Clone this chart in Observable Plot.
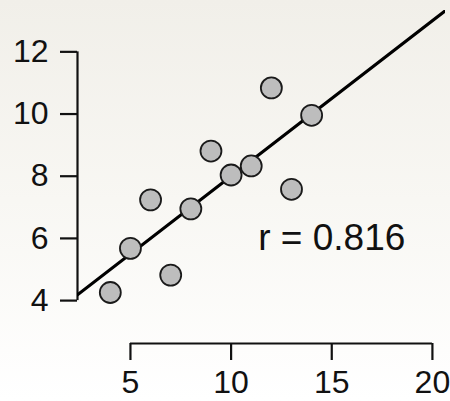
<!DOCTYPE html>
<html>
<head>
<meta charset="utf-8">
<script src="https://cdn.jsdelivr.net/npm/d3@7"></script>
<script src="https://cdn.jsdelivr.net/npm/@observablehq/plot@0.6"></script>
<style>
  html, body { margin: 0; padding: 0; }
  body {
    width: 450px; height: 401px; overflow: hidden;
    background: linear-gradient(to bottom, #f1efe9 0%, #f8f7f3 50%, #ffffff 100%);
    font-family: "Liberation Sans", Arial, Helvetica, sans-serif;
  }
  svg { display: block; }
</style>
</head>
<body>
<div id="chart"></div>
<script>
// Anscombe's quartet, set I
const xs = [10, 8, 13, 9, 11, 14, 6, 4, 12, 7, 5];
const ys = [8.04, 6.95, 7.58, 8.81, 8.33, 9.96, 7.24, 4.26, 10.84, 4.82, 5.68];
const xTicks = [5, 10, 15, 20];
const yTicks = [4, 6, 8, 10, 12];

const points = xs.map((x, i) => ({x, y: ys[i]}));

// least-squares fit and correlation
const mx = d3.mean(xs), my = d3.mean(ys);
const sxy = d3.sum(xs, (x, i) => (x - mx) * (ys[i] - my));
const sxx = d3.sum(xs, x => (x - mx) ** 2);
const syy = d3.sum(ys, y => (y - my) ** 2);
const slope = sxy / sxx;
const intercept = my - slope * mx;
const r = sxy / Math.sqrt(sxx * syy);

const xDomain = [2.37, 20.65];
const yDomain = [2.62, 13.33];
const fitLine = xDomain.map(x => ({x, y: intercept + slope * x}));

const chart = Plot.plot({
  width: 450,
  height: 401,
  marginLeft: 77,
  marginRight: 5,
  marginTop: 10,
  marginBottom: 58,
  style: {background: "transparent", fontFamily: "Liberation Sans, Arial, sans-serif", color: "#111"},
  x: {domain: xDomain, label: null},
  y: {domain: yDomain, label: null},
  marks: [
    Plot.axisX(xTicks, {label: null, tickSize: 17, tickPadding: 10, fontSize: 32, strokeWidth: 2.2, stroke: "#111", fill: "#111"}),
    Plot.axisY(yTicks, {label: null, tickSize: 17, tickPadding: 12, fontSize: 32, strokeWidth: 2.2, stroke: "#111", fill: "#111"}),
    Plot.ruleY([yDomain[0]], {x1: xTicks[0], x2: xTicks[xTicks.length - 1], stroke: "#111", strokeWidth: 2.2}),
    Plot.ruleX([xDomain[0]], {y1: yTicks[0], y2: yTicks[yTicks.length - 1], stroke: "#111", strokeWidth: 2.2}),
    Plot.line(fitLine, {x: "x", y: "y", stroke: "#000", strokeWidth: 3.2, clip: true}),
    Plot.dot(points, {x: "x", y: "y", r: 10.5, fill: "#bdbdbd", stroke: "#1a1a1a", strokeWidth: 1.8}),
    Plot.text([`r = ${r.toFixed(3)}`], {x: 15, y: 6, text: d => d, fontSize: 37, fill: "#111", textAnchor: "middle"})
  ]
});
document.getElementById("chart").appendChild(chart);
</script>
</body>
</html>
